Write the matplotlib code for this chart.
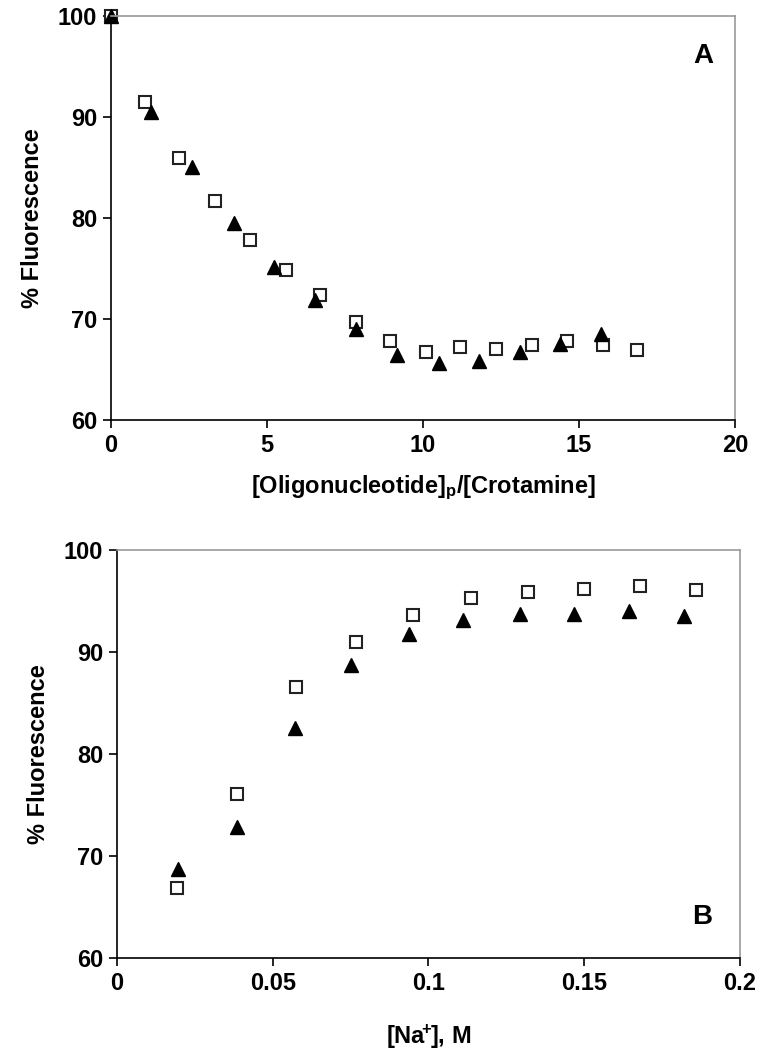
import numpy as np
import matplotlib
matplotlib.use('Agg')
import matplotlib.pyplot as plt

plt.rcParams['font.family'] = ['Liberation Sans', 'DejaVu Sans']
plt.rcParams['font.weight'] = 'bold'
plt.rcParams['mathtext.default'] = 'regular'

# panel A : fluorescence vs [oligonucleotide]p/[crotamine]
a_sq_x = [0, 1.09, 2.19, 3.33, 4.44, 5.6, 6.7, 7.84, 8.94, 10.1, 11.2, 12.34, 13.5, 14.6, 15.76, 16.85]
a_sq_y = [100, 91.5, 85.9, 81.7, 77.8, 74.9, 72.4, 69.7, 67.8, 66.7, 67.2, 67.05, 67.4, 67.8, 67.4, 66.9]
a_tr_x = [0, 1.28, 2.59, 3.94, 5.22, 6.55, 7.84, 9.16, 10.5, 11.8, 13.1, 14.4, 15.7]
a_tr_y = [100, 90.5, 85.1, 79.5, 75.2, 71.9, 69.0, 66.4, 65.6, 65.8, 66.7, 67.5, 68.5]

# panel B : fluorescence vs [Na+]
b_sq_x = [0.0194, 0.0385, 0.0576, 0.0766, 0.0951, 0.1136, 0.1318, 0.1499, 0.1679, 0.186]
b_sq_y = [66.9, 76.1, 86.6, 91.0, 93.6, 95.3, 95.9, 96.2, 96.5, 96.1]
b_tr_x = [0.0197, 0.0384, 0.057, 0.0751, 0.0936, 0.1112, 0.1294, 0.1468, 0.1644, 0.182]
b_tr_y = [68.7, 72.8, 82.5, 88.7, 91.8, 93.1, 93.7, 93.7, 94.0, 93.5]

fig = plt.figure(figsize=(7.61, 10.53), dpi=100)
axA = fig.add_axes([0.1459, 0.6011, 0.8199, 0.3837])
axB = fig.add_axes([0.1537, 0.0902, 0.8187, 0.3875])

def style(ax):
    for s in ['top', 'right']:
        ax.spines[s].set_color('#999999')
        ax.spines[s].set_linewidth(1.2)
    for s in ['left', 'bottom']:
        ax.spines[s].set_color('black')
        ax.spines[s].set_linewidth(1.2)
    ax.tick_params(direction='out', length=6, width=1.2, labelsize=17, pad=4)
    ax.set_ylim(60, 100)
    ax.set_yticks([60, 70, 80, 90, 100])
    ax.set_ylabel('% Fluorescence', fontsize=17, fontweight='bold', labelpad=10)

axA.plot(a_sq_x, a_sq_y, 's', ms=9, mfc='white', mec='#222222', mew=1.5, clip_on=False)
axA.plot(a_tr_x, a_tr_y, '^', ms=10, mfc='black', mec='black', clip_on=False)
axA.set_xlim(0, 20)
axA.set_xticks([0, 5, 10, 15, 20])
axA.set_xlabel('[Oligonucleotide]$_p$/[Crotamine]', fontsize=17, fontweight='bold', labelpad=12)
style(axA)
axA.text(0.95, 0.9, 'A', transform=axA.transAxes, fontsize=20, fontweight='bold', ha='center', va='center')

axB.plot(b_sq_x, b_sq_y, 's', ms=9, mfc='white', mec='#222222', mew=1.5, clip_on=False)
axB.plot(b_tr_x, b_tr_y, '^', ms=10, mfc='black', mec='black', clip_on=False)
axB.set_xlim(0, 0.2)
axB.set_xticks([0, 0.05, 0.1, 0.15, 0.2])
axB.set_xticklabels(['0', '0.05', '0.1', '0.15', '0.2'])
axB.set_xlabel(r'[Na$^{\!\!+\!\!}$], M', fontsize=17, fontweight='bold', labelpad=20)
style(axB)
axB.text(0.94, 0.1, 'B', transform=axB.transAxes, fontsize=20, fontweight='bold', ha='center', va='center')

fig.savefig('out.png', dpi=100)
